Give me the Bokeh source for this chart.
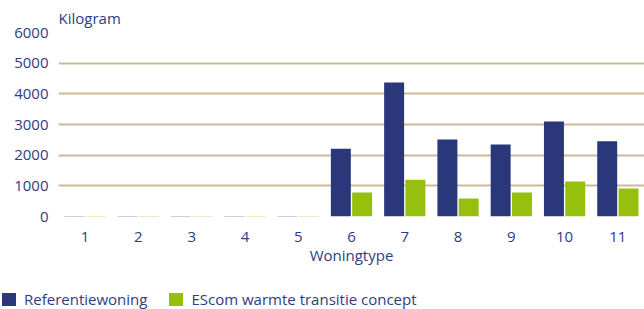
from bokeh.plotting import figure
from bokeh.layouts import column
from bokeh.models import ColumnDataSource, FactorRange, Range1d, FixedTicker, Div
from bokeh.transform import dodge
from bokeh.embed import file_html
from bokeh.resources import INLINE

categories = ["1", "2", "3", "4", "5", "6", "7", "8", "9", "10", "11"]
referentie = [15, 15, 15, 15, 15, 2210, 4370, 2510, 2350, 3100, 2450]
escom = [15, 15, 15, 15, 15, 780, 1200, 590, 780, 1140, 910]
y_ticks = [0, 1000, 2000, 3000, 4000, 5000, 6000]
series_labels = ["Referentiewoning", "EScom warmte transitie concept"]

NAVY = "#2A387B"
GREEN = "#97C00E"
TEXT = "#2F3C82"
GRID = "#CDB999"
FONT = "Open Sans"

src = ColumnDataSource(dict(cat=categories, ref=referentie, esc=escom))

p = figure(x_range=FactorRange(*categories, range_padding=0), y_range=Range1d(0, 6000),
           frame_width=586, frame_height=184, output_backend="svg", toolbar_location=None,
           min_border_left=58, min_border_right=0, min_border_top=24, min_border_bottom=0,
           outline_line_color=None)

r1 = p.vbar(x=dodge("cat", -0.2, range=p.x_range), top="ref", width=0.375, source=src,
            color=NAVY, line_color=None)
r2 = p.vbar(x=dodge("cat", 0.2, range=p.x_range), top="esc", width=0.375, source=src,
            color=GREEN, line_color=None)

p.title.text = "Kilogram"
p.title.text_font = FONT
p.title.text_font_size = "15px"
p.title.text_font_style = "normal"
p.title.text_color = TEXT
p.title.align = "left"
p.title.offset = 0

p.xgrid.grid_line_color = None
p.ygrid.grid_line_color = GRID
p.ygrid.grid_line_width = 2
p.yaxis.ticker = FixedTicker(ticks=y_ticks)

for ax in (p.xaxis[0], p.yaxis[0]):
    ax.axis_line_color = None
    ax.major_tick_line_color = None
    ax.minor_tick_line_color = None
    ax.major_label_text_color = TEXT
    ax.major_label_text_font = FONT
    ax.major_label_text_font_size = "15px"

p.yaxis.major_label_standoff = 4
p.xaxis.axis_label = "Woningtype"
p.xaxis.axis_label_text_font = FONT
p.xaxis.axis_label_text_font_size = "15px"
p.xaxis.axis_label_text_font_style = "normal"
p.xaxis.axis_label_text_color = TEXT
p.xaxis.axis_label_standoff = 0
p.xaxis.major_label_standoff = 9

# legend as HTML strip below the chart
items_html = ""
for lab, col in zip(series_labels, [NAVY, GREEN]):
    items_html += (f'<span style="display:inline-block;width:14px;height:13px;background:{col};'
                   f'margin-right:8px;flex:none"></span>'
                   f'<span style="margin-right:22px;white-space:nowrap">{lab}</span>')
html = (f'<div style="display:flex;align-items:center;padding-top:24px;margin-left:2px;'
        f'font-family:\'{FONT}\';font-size:15px;line-height:16px;color:{TEXT}">{items_html}</div>')
legend_div = Div(text=html, width=636, height=44, margin=(0, 0, 0, 0))

open("out.html", "w").write(file_html(column(p, legend_div), INLINE))
